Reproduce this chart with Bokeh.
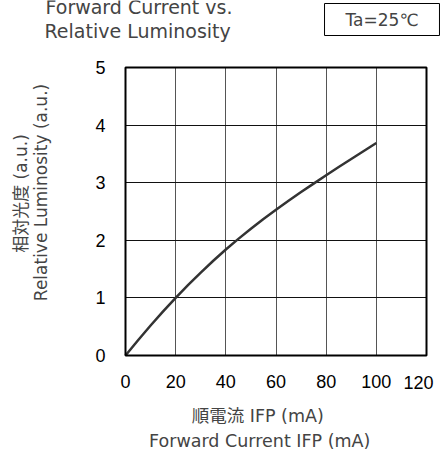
import math
from bokeh.plotting import figure
from bokeh.models import Range1d, Label, FixedTicker, BoxAnnotation
from bokeh.embed import file_html
from bokeh.resources import INLINE

# ---- Data ----
current_ma = [0, 5, 10, 15, 20, 25, 30, 35, 40, 45, 50,
              55, 60, 65, 70, 75, 80, 85, 90, 95, 100]
rel_lum = [0, 0.265, 0.52, 0.765, 1.0, 1.225, 1.44, 1.645, 1.84, 2.025, 2.2,
           2.37, 2.53, 2.686, 2.837, 2.984, 3.13, 3.272, 3.412, 3.551, 3.69]
x_ticks = [0, 20, 40, 60, 80, 100, 120]
y_ticks = [0, 1, 2, 3, 4, 5]

title_lines = ["Forward Current vs.", "Relative Luminosity"]
cond_text = "Ta=25℃"
xlabel_jp = "順電流  IFP (mA)"
xlabel_en = "Forward Current  IFP (mA)"
ylabel_jp = "相対光度 (a.u.)"
ylabel_en = "Relative Luminosity (a.u.)"

W, H = 441, 454
# plot box (pixels in the picture): x 125..426, y 67..355
BOX_L, BOX_R, BOX_T, BOX_B = 125, 426, 67, 355
XMAX, YMAX = x_ticks[-1], y_ticks[-1]
kx = (BOX_R - BOX_L) / XMAX
ky = (BOX_B - BOX_T) / YMAX

def X(px):
    return (px - BOX_L) / kx

def Y(py):
    return (BOX_B - py) / ky

LAT = "'DejaVu Sans', 'Noto Sans CJK JP'"
TICKF = "'Liberation Sans'"

p = figure(width=W, height=H, output_backend="svg", toolbar_location=None,
           x_range=Range1d(X(0), X(W)), y_range=Range1d(Y(H), Y(0)),
           min_border=0, min_border_left=0, min_border_right=0,
           min_border_top=0, min_border_bottom=0)
p.outline_line_color = None
p.background_fill_color = "white"
p.border_fill_color = "white"

p.xaxis.ticker = FixedTicker(ticks=x_ticks)
p.yaxis.ticker = FixedTicker(ticks=y_ticks)
p.xaxis.fixed_location = 0
p.yaxis.fixed_location = 0
for ax in (p.xaxis, p.yaxis):
    ax.axis_line_color = None
    ax.major_tick_line_color = None
    ax.minor_tick_line_color = None
    ax.major_tick_out = 0
    ax.major_tick_in = 0
    ax.major_label_text_font = TICKF
    ax.major_label_text_font_size = "18px"
    ax.major_label_text_color = "black"
p.xaxis.major_label_standoff = 19
p.yaxis.major_label_standoff = 20
p.xaxis.major_label_overrides = {120: ""}

p.xgrid.ticker = FixedTicker(ticks=x_ticks)
p.ygrid.ticker = FixedTicker(ticks=y_ticks)
p.xgrid.grid_line_color = "#555555"
p.xgrid.grid_line_width = 1
p.ygrid.grid_line_color = "#111111"
p.ygrid.grid_line_width = 1
try:
    p.xgrid.cross_bounds = (0, YMAX)
    p.ygrid.cross_bounds = (0, XMAX)
except Exception:
    p.xgrid.visible = False
    p.ygrid.visible = False
    p.segment(x0=x_ticks, y0=[0] * len(x_ticks), x1=x_ticks, y1=[YMAX] * len(x_ticks),
              line_color="#555555", line_width=1)
    p.segment(x0=[0] * len(y_ticks), y0=y_ticks, x1=[XMAX] * len(y_ticks), y1=y_ticks,
              line_color="#111111", line_width=1)

# curve
p.line(current_ma, rel_lum, line_color="#333333", line_width=2.5, line_join="round")

# plot frame
p.add_layout(BoxAnnotation(left=0, right=XMAX, bottom=0, top=YMAX,
                           fill_alpha=0, fill_color=None,
                           line_color="black", line_width=2, line_alpha=1))

# "120" tick label, right-aligned at the edge as in the original
p.add_layout(Label(x=120, y=Y(381.5), x_offset=7, text="120", text_align="right",
                   text_baseline="middle", text_font=TICKF, text_font_size="18px",
                   text_color="black"))

# Title (two lines, first one partly cut by the top edge as in the original)
p.add_layout(Label(x=X(45), y=Y(6), text=title_lines[0], text_align="left",
                   text_baseline="alphabetic", text_font=LAT, text_font_size="19px"))
p.add_layout(Label(x=X(44), y=Y(30), text=title_lines[1], text_align="left",
                   text_baseline="alphabetic", text_font=LAT, text_font_size="19px"))

# Condition box
p.add_layout(Label(x=X(381.5), y=Y(19), text=cond_text, text_align="center",
                   text_baseline="middle", text_font=LAT, text_font_size="17px",
                   border_line_color="black", border_line_width=1,
                   background_fill_color="white", padding=(21, 21, 6, 6)))

# Axis titles
p.add_layout(Label(x=X(260), y=Y(415), text=xlabel_jp, text_align="center",
                   text_baseline="middle", text_font=LAT, text_font_size="17.5px"))
p.add_layout(Label(x=X(262), y=Y(440), text=xlabel_en, text_align="center",
                   text_baseline="middle", text_font=LAT, text_font_size="17.5px"))
p.add_layout(Label(x=X(20), y=Y(193), text=ylabel_jp, text_align="center",
                   text_baseline="middle", angle=math.pi / 2, text_font=LAT,
                   text_font_size="17px"))
p.add_layout(Label(x=X(40), y=Y(192), text=ylabel_en, text_align="center",
                   text_baseline="middle", angle=math.pi / 2, text_font=LAT,
                   text_font_size="17px"))

open("out.html", "w").write(file_html(p, INLINE))
